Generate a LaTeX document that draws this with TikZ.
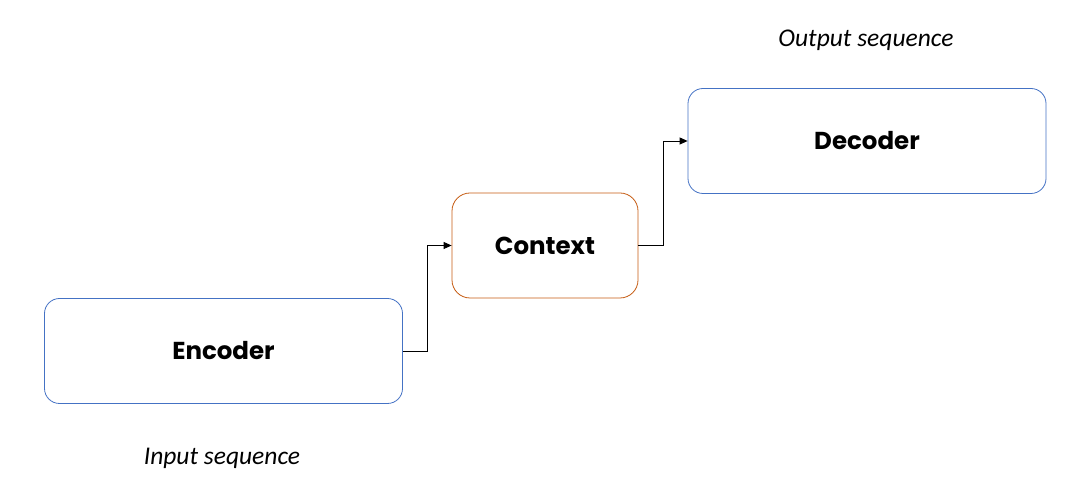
\documentclass[tikz,border=0pt]{standalone}
\usepackage{fontspec}
\setmainfont{Carlito}
\newfontfamily\blockfont{Poppins}
\usetikzlibrary{arrows.meta, positioning}
\definecolor{encblue}{RGB}{68,114,196}
\definecolor{ctxorange}{RGB}{197,90,17}

\begin{document}
\begin{tikzpicture}[x=1pt, y=1pt,
    block/.style={draw=encblue, line width=0.8pt, rounded corners=15pt, minimum width=358pt, minimum height=105pt, inner sep=0pt, font=\blockfont\bfseries\fontsize{24.5}{28}\selectfont},
    ctxblock/.style={block, draw=ctxorange, rounded corners=18pt, minimum width=186pt},
    seqlabel/.style={font=\itshape\fontsize{25.5}{30}\selectfont},
    link/.style={draw, line width=0.8pt, -{Triangle[length=8pt, width=7pt]}}]
    \useasboundingbox (0,0) rectangle (1082,492);

    \node[block] (enc) at (223.5,141) {Encoder};
    \node[ctxblock] (ctx) at (545,246.5) {Context};
    \node[block] (dec) at (867,351) {Decoder};

    \node[seqlabel] (inseq) at (222,34) {Input sequence};
    \node[seqlabel] (outseq) at (866,452) {Output sequence};

    \draw[link] (enc.east) -- ++(24,0) |- (ctx.west);
    \draw[link] (ctx.east) -- ++(25,0) |- (dec.west);
\end{tikzpicture}
\end{document}
